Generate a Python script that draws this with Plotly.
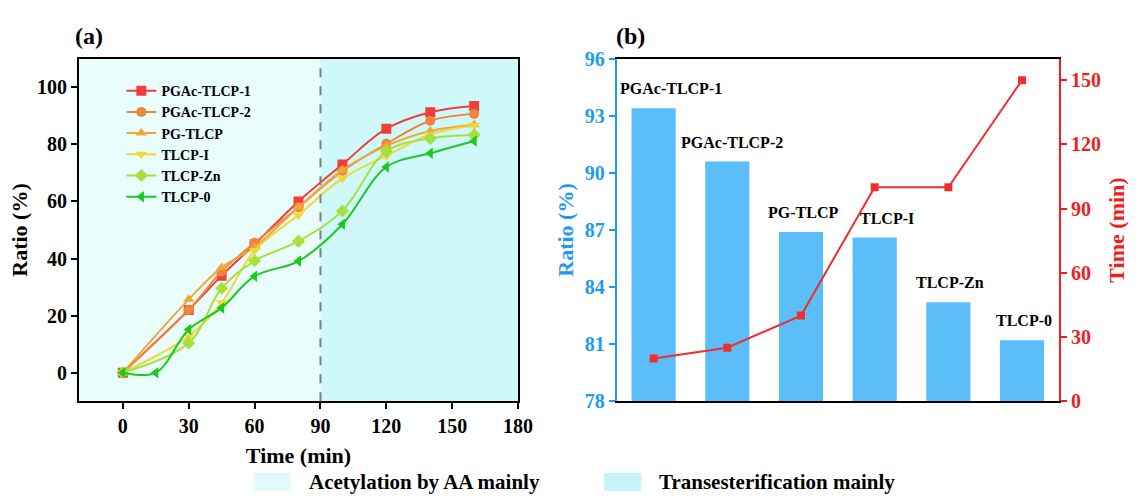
import plotly.graph_objects as go

# ---------------- data: panel (a) ----------------
t_main = [0, 30, 45, 60, 80, 100, 120, 140, 160]
t_tlcp0 = [0, 15, 30, 45, 60, 80, 100, 120, 140, 160]

pgac1 = [0, 22, 34, 45, 60, 73, 85.5, 91.3, 93.5]
pgac2 = [0, 22, 35.5, 45.5, 58, 70.7, 80.2, 88.3, 90.7]
pg_tlcp = [0, 25.7, 36.9, 44, 58, 71, 79.5, 84.7, 86.9]
tlcp_i = [0, 12.8, 24.5, 42.8, 55.3, 68.1, 76, 83.5, 86.6]
tlcp_zn = [0, 10.4, 29.6, 39.2, 46.1, 56.7, 77.6, 82.1, 83.3]
tlcp_0 = [0, 0, 15.1, 22.7, 33.8, 39.1, 52, 72.1, 76.9, 81.2]

series_names = ["PGAc-TLCP-1", "PGAc-TLCP-2", "PG-TLCP", "TLCP-I", "TLCP-Zn", "TLCP-0"]
series_colors = ["#F23D3D", "#F0843A", "#F0A838", "#EED83A", "#A6E03C", "#1FC81F"]
series_symbols = ["square", "circle", "triangle-up", "triangle-down", "diamond", "triangle-left"]

phase_boundary = 90
x_range_a = [-20, 180]

# ---------------- data: panel (b) ----------------
samples = ["PGAc-TLCP-1", "PGAc-TLCP-2", "PG-TLCP", "TLCP-I", "TLCP-Zn", "TLCP-0"]
ratio_final = [93.4, 90.6, 86.9, 86.6, 83.2, 81.2]
time_needed = [20, 25, 40, 100, 100, 150]
label_shift = [17, 5, 2, 12, 2, 2]

FONT = "Liberation Serif"
W, H = 1140, 504

def px_x(p):
    return p / W

def px_y(p):
    return 1 - p / H

fig = go.Figure()

ys_a = [pgac1, pgac2, pg_tlcp, tlcp_i, tlcp_zn, tlcp_0]
xs_a = [t_main] * 5 + [t_tlcp0]
for name, xs, ys, col, sym in zip(series_names, xs_a, ys_a, series_colors, series_symbols):
    fig.add_trace(go.Scatter(
        x=xs, y=ys, name=name, mode="lines+markers",
        line=dict(color=col, width=2, shape="spline", smoothing=1.0),
        marker=dict(color=col, symbol=sym, size=10),
        xaxis="x", yaxis="y", legend="legend",
    ))

fig.add_trace(go.Bar(
    x=samples, y=ratio_final, base=0, width=0.6,
    marker=dict(color="#5BBEF8", line=dict(width=0)),
    xaxis="x2", yaxis="y2", showlegend=False,
))
fig.add_trace(go.Scatter(
    x=samples, y=time_needed, mode="lines+markers",
    line=dict(color="#F02E2E", width=2),
    marker=dict(color="#F02E2E", symbol="square", size=8),
    xaxis="x2", yaxis="y3", showlegend=False,
))

tick_font = dict(family=FONT, size=20, color="black", weight="bold")
title_font = dict(family=FONT, size=22, color="black")

dom_a = [px_x(80), px_x(525)]
dom_b = [px_x(625), px_x(1073)]
dom_y = [px_y(408), px_y(50)]

blue = "#1E9BF0"
red = "#F01E1E"

fig.update_layout(
    width=W, height=H,
    margin=dict(l=0, r=0, t=0, b=0),
    paper_bgcolor="white", plot_bgcolor="rgba(0,0,0,0)",
    font=dict(family=FONT),
    xaxis=dict(domain=dom_a, range=x_range_a, tickvals=[0, 30, 60, 90, 120, 150, 180],
               showline=True, linecolor="black", linewidth=2, mirror=True,
               ticks="outside", ticklen=6, tickwidth=2, tickcolor="black",
               showgrid=False, zeroline=False,
               tickfont=tick_font,
               title=dict(text="<b>Time (min)</b>", font=title_font, standoff=11),
               anchor="y"),
    yaxis=dict(domain=dom_y, range=[-10, 110], tickvals=[0, 20, 40, 60, 80, 100],
               showline=True, linecolor="black", linewidth=2, mirror=True,
               ticks="outside", ticklen=6, tickwidth=2, tickcolor="black",
               showgrid=False, zeroline=False,
               tickfont=tick_font,
               title=dict(text="<b>Ratio (%)</b>", font=title_font, standoff=3),
               anchor="x"),
    xaxis2=dict(domain=dom_b, range=[-0.5, 5.5], type="category",
                showticklabels=False, ticks="",
                showline=True, linecolor="black", linewidth=2, mirror=True,
                showgrid=False, zeroline=False, anchor="y2"),
    yaxis2=dict(domain=dom_y, range=[78, 96], tickvals=[78, 81, 84, 87, 90, 93, 96],
                showline=True, linecolor=blue, linewidth=2,
                ticks="outside", ticklen=6, tickwidth=2, tickcolor=blue,
                showgrid=False, zeroline=False,
                tickfont=dict(family=FONT, size=20, color=blue, weight="bold"),
                title=dict(text="<b>Ratio (%)</b>", font=dict(family=FONT, size=22, color=blue), standoff=5),
                anchor="x2"),
    yaxis3=dict(domain=dom_y, range=[0, 160], tickvals=[0, 30, 60, 90, 120, 150],
                overlaying="y2", side="right",
                showline=True, linecolor=red, linewidth=2,
                ticks="outside", ticklen=6, tickwidth=2, tickcolor=red,
                showgrid=False, zeroline=False,
                tickfont=dict(family=FONT, size=20, color=red, weight="bold"),
                title=dict(text="<b>Time (min)</b>", font=dict(family=FONT, size=22, color=red), standoff=9),
                anchor="x2"),
    legend=dict(x=px_x(123), y=px_y(67), xanchor="left", yanchor="top",
                bgcolor="rgba(0,0,0,0)", borderwidth=0,
                font=dict(family=FONT, size=14, color="black", weight="bold"),
                tracegroupgap=0, itemwidth=30),
    bargap=0.4,
)

# background phases of panel (a)
fig.add_shape(type="rect", xref="x", yref="paper", x0=x_range_a[0], x1=phase_boundary,
              y0=dom_y[0], y1=dom_y[1], fillcolor="#EAFDFD", line_width=0, layer="below")
fig.add_shape(type="rect", xref="x", yref="paper", x0=phase_boundary, x1=x_range_a[1],
              y0=dom_y[0], y1=dom_y[1], fillcolor="#CEF8FA", line_width=0, layer="below")
fig.add_shape(type="line", xref="x", yref="paper", x0=phase_boundary, x1=phase_boundary,
              y0=dom_y[0], y1=dom_y[1], line=dict(color="#7F7F7F", width=2, dash="dash"), layer="above")

# bar labels
for s, v, sh in zip(samples, ratio_final, label_shift):
    fig.add_annotation(x=s, y=v, xref="x2", yref="y2", text=f"<b>{s}</b>",
                       showarrow=False, yanchor="bottom", yshift=9, xshift=sh,
                       font=dict(family=FONT, size=16, color="black"))

# panel letters
fig.add_annotation(x=px_x(74), y=px_y(26), xref="paper", yref="paper", text="<b>(a)</b>",
                   showarrow=False, xanchor="left", yanchor="middle",
                   font=dict(family=FONT, size=24, color="black"))
fig.add_annotation(x=px_x(622), y=px_y(26), xref="paper", yref="paper", text="<b>(b)</b>",
                   showarrow=False, xanchor="left", yanchor="middle",
                   font=dict(family=FONT, size=24, color="black"))

# bottom legend for phases
phase_legend = [("Acetylation by AA mainly", "#E0FAFC", 257), ("Transesterification mainly", "#C8F3F8", 612)]
for txt, col, x0 in phase_legend:
    fig.add_shape(type="rect", xref="paper", yref="paper", x0=px_x(x0), x1=px_x(x0 + 38),
                  y0=px_y(502), y1=px_y(483), fillcolor=col, line_width=0)
    fig.add_annotation(x=px_x(x0 + 54), y=px_y(492), xref="paper", yref="paper",
                       text=f"<b>{txt}</b>", showarrow=False, xanchor="left", yanchor="middle",
                       font=dict(family=FONT, size=21, color="black"))

fig.write_html("out.html")
